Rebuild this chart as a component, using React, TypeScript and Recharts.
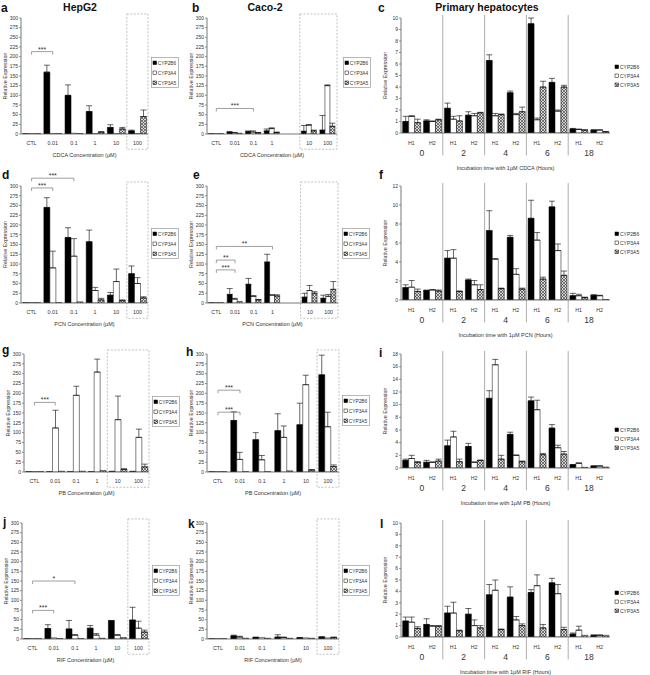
import React from "react";
import { BarChart, Bar, XAxis, YAxis, ErrorBar, ReferenceLine, ReferenceArea } from "recharts";

const FONT = "'Liberation Sans', Arial, Helvetica, sans-serif";

const genes = ["CYP2B6", "CYP3A4", "CYP3A5"];
const doses = ["CTL", "0.01", "0.1", "1", "10", "100"];
const times = ["0", "2", "4", "6", "18"];
const donors = ["H1", "H2"];

const doseTicks = [0, 25, 50, 75, 100, 125, 150, 175, 200, 225, 250, 275, 300];
const ticks10 = [0, 1, 2, 3, 4, 5, 6, 7, 8, 9, 10];
const ticks12 = [0, 2, 4, 6, 8, 10, 12];
const ticks18 = [0, 2, 4, 6, 8, 10, 12, 14, 16, 18];

// rows: CYP2B6, CYP3A4, CYP3A5 ; columns: doses
const hepCdcaMean = [
  [1, 160, 100, 58, 17, 8],
  [1, 1, 2, 1, 1, 1],
  [1, 1, 1, 5, 13, 45],
];
const hepCdcaErr = [
  [0, 18, 27, 15, 7, 2],
  [0, 0, 0, 0, 0, 0],
  [0, 0, 0, 1, 4, 17],
];
const cacoCdcaMean = [
  [1, 5, 6, 8, 7, 10],
  [1, 3, 5, 14, 23, 125],
  [1, 2, 3, 4, 8, 20],
];
const cacoCdcaErr = [
  [0, 1, 2, 5, 15, 38],
  [0, 1, 3, 2, 1, 2],
  [0, 0, 1, 1, 2, 8],
];
const hepPcnMean = [
  [1, 245, 168, 157, 20, 75],
  [1, 90, 120, 32, 55, 50],
  [1, 1, 3, 8, 6, 13],
];
const hepPcnErr = [
  [0, 25, 25, 30, 7, 20],
  [0, 43, 45, 8, 32, 15],
  [0, 0, 0, 4, 2, 3],
];
const cacoPcnMean = [
  [1, 22, 48, 105, 15, 12],
  [1, 10, 17, 20, 32, 17],
  [1, 4, 8, 18, 25, 35],
];
const cacoPcnErr = [
  [0, 15, 15, 20, 10, 8],
  [0, 2, 2, 1, 13, 5],
  [0, 0, 1, 3, 4, 20],
];
const hepPbMean = [
  [1, 1, 1, 1, 2, 2],
  [1, 112, 195, 254, 133, 88],
  [1, 2, 2, 4, 7, 13],
];
const hepPbErr = [
  [0, 0, 0, 0, 0, 0],
  [0, 45, 23, 33, 60, 21],
  [0, 0, 0, 0, 1, 7],
];
const cacoPbMean = [
  [1, 131, 82, 105, 120, 247],
  [1, 32, 31, 88, 222, 115],
  [1, 1, 1, 3, 5, 14],
];
const cacoPbErr = [
  [0, 22, 18, 43, 55, 50],
  [0, 18, 11, 29, 24, 37],
  [0, 0, 0, 0, 1, 4],
];
const hepRifMean = [
  [1, 27, 26, 28, 47, 49],
  [1, 3, 10, 10, 10, 28],
  [1, 1, 1, 2, 4, 18],
];
const hepRifErr = [
  [0, 10, 22, 7, 1, 33],
  [0, 0, 1, 4, 1, 18],
  [0, 0, 0, 0, 0, 5],
];
const cacoRifMean = [
  [1, 8, 4, 5, 3, 5],
  [1, 5, 4, 4, 3, 3],
  [1, 2, 2, 2, 2, 4],
];
const cacoRifErr = [
  [0, 2, 1, 6, 1, 1],
  [0, 2, 0, 1, 0, 0],
  [0, 0, 0, 0, 0, 1],
];

// primary hepatocytes, columns: 0h H1, 0h H2, 2h H1, 2h H2, ... 18h H2
const priCdcaMean = [
  [1.0, 1.05, 2.15, 1.55, 6.3, 3.5, 9.5, 4.4, 0.35, 0.25],
  [1.45, 1.0, 1.2, 1.5, 1.5, 1.6, 1.15, 1.9, 0.3, 0.25],
  [0.9, 1.15, 1.05, 1.75, 1.6, 1.85, 4.0, 4.0, 0.25, 0.1],
];
const priCdcaErr = [
  [0.45, 0.1, 0.45, 0.3, 0.5, 0.15, 0.5, 0.35, 0.05, 0.03],
  [0.05, 0.05, 0.25, 0.2, 0.2, 0.1, 0.15, 0.1, 0.05, 0.03],
  [0.3, 0.05, 0.45, 0.05, 0.05, 0.4, 0.5, 0.15, 0.03, 0.03],
];
const priPcnMean = [
  [1.3, 1.0, 4.4, 2.1, 7.3, 6.6, 8.6, 9.8, 0.45, 0.5],
  [1.35, 1.05, 4.4, 1.6, 4.3, 2.7, 6.3, 5.2, 0.45, 0.45],
  [0.9, 0.95, 0.9, 1.1, 1.2, 1.15, 2.2, 2.6, 0.25, 0.05],
];
const priPcnErr = [
  [0.3, 0.05, 0.8, 0.1, 2.1, 0.2, 1.9, 0.6, 0.25, 0.05],
  [0.7, 0.05, 0.9, 0.45, 0.05, 0.6, 0.8, 0.7, 0.15, 0.05],
  [0.25, 0.1, 0.05, 0.5, 0.05, 0.1, 0.2, 0.45, 0.05, 0],
];
const priPbMean = [
  [1.2, 0.9, 3.5, 3.4, 11.0, 5.3, 10.6, 6.3, 0.5, 0.3],
  [1.5, 0.9, 4.9, 0.9, 16.3, 2.0, 9.2, 3.2, 0.75, 0.3],
  [0.9, 1.1, 1.0, 1.2, 1.4, 1.0, 2.1, 2.2, 0.1, 0.15],
];
const priPbErr = [
  [0.2, 0.3, 0.9, 0.5, 1.2, 0.35, 0.6, 0.55, 0.05, 0.05],
  [0.5, 0.05, 0.9, 0.05, 0.85, 0.05, 1.5, 0.4, 0.05, 0.05],
  [0.1, 0.3, 0.4, 0.05, 0.6, 0.1, 0.2, 0.4, 0, 0],
];
const priRifMean = [
  [1.4, 1.1, 2.1, 2.0, 3.7, 3.5, 3.9, 4.75, 0.25, 0.15],
  [1.3, 0.95, 2.1, 1.0, 4.1, 1.5, 4.5, 3.8, 0.6, 0.15],
  [0.75, 0.95, 0.55, 0.8, 0.65, 1.0, 0.8, 0.65, 0.15, 0.15],
];
const priRifErr = [
  [0.35, 0.5, 0.6, 0.5, 0.9, 0.9, 0.25, 0.4, 0.1, 0.03],
  [0.45, 0.05, 0.95, 0.5, 0.9, 0.3, 0.95, 0.8, 0.35, 0.03],
  [0.15, 0.05, 0.05, 0.2, 0.05, 0.15, 0.3, 0.2, 0, 0],
];

// significance brackets
type Sig = { from: string; to: string; at: number; mark: string };
const hepCdcaSig: Sig[] = [{ from: "CTL", to: "0.01", at: 213, mark: "***" }];
const cacoCdcaSig: Sig[] = [{ from: "CTL", to: "0.1", at: 66, mark: "***" }];
const hepPcnSig: Sig[] = [
  { from: "CTL", to: "0.01", at: 295, mark: "***" },
  { from: "CTL", to: "0.1", at: 320, mark: "***" },
];
const cacoPcnSig: Sig[] = [
  { from: "CTL", to: "0.01", at: 85, mark: "***" },
  { from: "CTL", to: "0.01", at: 110, mark: "**" },
  { from: "CTL", to: "1", at: 145, mark: "**" },
];
const hepPbSig: Sig[] = [{ from: "CTL", to: "0.01", at: 177, mark: "***" }];
const cacoPbSig: Sig[] = [
  { from: "CTL", to: "0.01", at: 152, mark: "***" },
  { from: "CTL", to: "0.01", at: 208, mark: "***" },
];
const hepRifSig: Sig[] = [
  { from: "CTL", to: "0.01", at: 74, mark: "***" },
  { from: "CTL", to: "0.1", at: 150, mark: "*" },
];

const fills = ["#000000", "#ffffff", "url(#hatch)"];
const YW = 20;
const MT = 14;

const errPair = (e: number) => (e > 0 ? [0, e] : undefined);

function seriesBars() {
  return genes.map((g, i) => (
    <Bar
      key={g}
      dataKey={`v${i}`}
      name={g}
      fill={fills[i]}
      stroke="#000"
      strokeWidth={0.5}
      isAnimationActive={false}
    >
      <ErrorBar dataKey={`e${i}`} width={3} stroke="#000" strokeWidth={0.6} />
    </Bar>
  ));
}

function YTitle(props: any) {
  const vb = props.viewBox;
  const cx = vb.x + 4;
  const cy = vb.y + vb.height / 2;
  return (
    <text
      x={cx}
      y={cy}
      transform={`rotate(-90 ${cx} ${cy})`}
      textAnchor="middle"
      dominantBaseline="central"
      fontSize={5.3}
      fill="#333"
    >
      Relative Expression
    </text>
  );
}

function yAxisFor(max: number, ticks: number[]) {
  return (
    <YAxis
      domain={[0, max]}
      ticks={ticks}
      interval={0}
      width={YW}
      allowDataOverflow
      tickSize={2}
      tickMargin={1}
      axisLine={{ stroke: "#555", strokeWidth: 0.8 }}
      tickLine={{ stroke: "#555", strokeWidth: 0.6 }}
      tick={{ fontSize: 5, fill: "#333" }}
      label={<YTitle />}
    />
  );
}

function bracketLines(b: Sig, unit: number, k: string) {
  const drop = 3 / unit;
  const common: any = { ifOverflow: "visible", stroke: "#777", strokeWidth: 0.7 };
  return [
    <ReferenceLine
      key={k + "h"}
      {...common}
      segment={[{ x: b.from, y: b.at }, { x: b.to, y: b.at }]}
      label={{ value: b.mark, position: "top", offset: 0, fontSize: 7, fill: "#333" }}
    />,
    <ReferenceLine key={k + "l"} {...common} segment={[{ x: b.from, y: b.at }, { x: b.from, y: b.at - drop }]} />,
    <ReferenceLine key={k + "r"} {...common} segment={[{ x: b.to, y: b.at }, { x: b.to, y: b.at - drop }]} />,
  ];
}

type DoseSpec = {
  id: string;
  x: number;
  y: number;
  w: number;
  h: number;
  mean: number[][];
  err: number[][];
  drug: string;
  gap: boolean;
  box: [string, string];
  sig: Sig[];
};

function DosePanel({ s }: { s: DoseSpec }) {
  const rows: any[] = doses.map((d, i) => ({
    cat: d,
    v0: s.mean[0][i],
    v1: s.mean[1][i],
    v2: s.mean[2][i],
    e0: errPair(s.err[0][i]),
    e1: errPair(s.err[1][i]),
    e2: errPair(s.err[2][i]),
  }));
  if (s.gap) rows.splice(4, 0, { cat: "" });
  const unit = s.h / 300;
  return (
    <div style={{ position: "absolute", left: s.x - YW, top: s.y - MT }}>
      <BarChart
        width={YW + s.w + 2}
        height={MT + s.h + 26}
        data={rows}
        margin={{ top: MT, right: 2, left: 0, bottom: 0 }}
        barGap={0}
        barCategoryGap="8%"
      >
        <XAxis
          dataKey="cat"
          height={24}
          interval={0}
          tickLine={false}
          tickSize={5}
          tickMargin={2}
          axisLine={{ stroke: "#555", strokeWidth: 0.8 }}
          tick={{ fontSize: 5.3, fill: "#333" }}
          label={{
            value: `${s.drug} Concentration (\u00b5M)`,
            position: "insideBottom",
            offset: 1,
            fontSize: 5.5,
            fill: "#333",
          }}
        />
        {yAxisFor(300, doseTicks)}
        {seriesBars()}
        <ReferenceArea
          x1={s.box[0]}
          x2={s.box[1]}
          y1={-15 / unit}
          y2={300 + 4 / unit}
          ifOverflow="visible"
          fill="none"
          stroke="#999"
          strokeWidth={0.6}
          strokeDasharray="2 1.5"
        />
        {s.sig.flatMap((b, i) => bracketLines(b, unit, `${s.id}${i}`))}
      </BarChart>
    </div>
  );
}

// two-level tick: donor under each bar group, time point centred under each pair
function TimeTick(props: any) {
  const { x, y, payload, step } = props;
  const [t, d] = String(payload.value).split("-");
  return (
    <g>
      <text x={x} y={y + 9} textAnchor="middle" dominantBaseline="central" fontSize={5.3} fill="#333">
        {d}
      </text>
      {d === "H1" && (
        <text x={x + step / 2} y={y + 19} textAnchor="middle" dominantBaseline="central" fontSize={8.5} fill="#333">
          {t}
        </text>
      )}
    </g>
  );
}

type TimeSpec = {
  id: string;
  x: number;
  y: number;
  w: number;
  h: number;
  max: number;
  ticks: number[];
  mean: number[][];
  err: number[][];
  drug: string;
};

function TimePanel({ s }: { s: TimeSpec }) {
  const rows = times.flatMap((t, ti) =>
    donors.map((d, di) => {
      const i = ti * 2 + di;
      return {
        key: `${t}-${d}`,
        v0: s.mean[0][i],
        v1: s.mean[1][i],
        v2: s.mean[2][i],
        e0: errPair(s.err[0][i]),
        e1: errPair(s.err[1][i]),
        e2: errPair(s.err[2][i]),
      };
    })
  );
  const unit = s.h / s.max;
  return (
    <div style={{ position: "absolute", left: s.x - YW, top: s.y - MT }}>
      <BarChart
        width={YW + s.w + 2}
        height={MT + s.h + 41}
        data={rows}
        margin={{ top: MT, right: 2, left: 0, bottom: 0 }}
        barGap={0}
        barCategoryGap="8%"
      >
        <XAxis
          dataKey="key"
          height={39}
          interval={0}
          tickLine={false}
          tickSize={1}
          tickMargin={0}
          axisLine={{ stroke: "#555", strokeWidth: 0.8 }}
          tick={<TimeTick step={s.w / 10} />}
          label={{
            value: `Incubation time with 1\u00b5M ${s.drug} (Hours)`,
            position: "insideBottom",
            offset: 2,
            fontSize: 5.5,
            fill: "#333",
          }}
        />
        {yAxisFor(s.max, s.ticks)}
        {seriesBars()}
        {times.slice(1).map((t) => (
          <ReferenceLine
            key={t}
            position="start"
            ifOverflow="visible"
            stroke="#999"
            strokeWidth={0.8}
            segment={[
              { x: `${t}-H1`, y: s.max + 3 / unit },
              { x: `${t}-H1`, y: -22 / unit },
            ]}
          />
        ))}
      </BarChart>
    </div>
  );
}

function LegendBox({ x, y, framed }: { x: number; y: number; framed: boolean }) {
  const w = framed ? 28 : 36;
  const h = framed ? 31 : 28;
  const step = framed ? 10 : 9;
  return (
    <svg style={{ position: "absolute", left: x, top: y }} width={w} height={h}>
      {framed && (
        <rect x={0.5} y={0.5} width={w - 1} height={h - 1} fill="#fff" stroke="#999" strokeWidth={0.7} />
      )}
      {genes.map((g, i) => (
        <g key={g}>
          <rect
            x={framed ? 2 : 1}
            y={4 + i * step}
            width={3.6}
            height={3.6}
            fill={fills[i]}
            stroke="#000"
            strokeWidth={0.5}
          />
          <text x={framed ? 6.8 : 6} y={7.8 + i * step} fontSize={framed ? 4.8 : 5} fill="#333">
            {g}
          </text>
        </g>
      ))}
    </svg>
  );
}

const dosePanels: DoseSpec[] = [
  { id: "a", x: 21, y: 18, w: 127, h: 114, mean: hepCdcaMean, err: hepCdcaErr, drug: "CDCA", gap: false, box: ["100", "100"], sig: hepCdcaSig },
  { id: "b", x: 207, y: 18, w: 130, h: 114, mean: cacoCdcaMean, err: cacoCdcaErr, drug: "CDCA", gap: true, box: ["10", "100"], sig: cacoCdcaSig },
  { id: "d", x: 21, y: 186, w: 127, h: 115, mean: hepPcnMean, err: hepPcnErr, drug: "PCN", gap: false, box: ["100", "100"], sig: hepPcnSig },
  { id: "e", x: 207, y: 186, w: 131, h: 115, mean: cacoPcnMean, err: cacoPcnErr, drug: "PCN", gap: true, box: ["10", "100"], sig: cacoPcnSig },
  { id: "g", x: 24, y: 354, w: 125, h: 116, mean: hepPbMean, err: hepPbErr, drug: "PB", gap: false, box: ["10", "100"], sig: hepPbSig },
  { id: "h", x: 207, y: 354, w: 132, h: 116, mean: cacoPbMean, err: cacoPbErr, drug: "PB", gap: false, box: ["100", "100"], sig: cacoPbSig },
  { id: "j", x: 22, y: 523, w: 127, h: 114, mean: hepRifMean, err: hepRifErr, drug: "RIF", gap: false, box: ["100", "100"], sig: hepRifSig },
  { id: "k", x: 207, y: 523, w: 132, h: 114, mean: cacoRifMean, err: cacoRifErr, drug: "RIF", gap: false, box: ["100", "100"], sig: [] },
];

const timePanels: TimeSpec[] = [
  { id: "c", x: 401, y: 18, w: 209, h: 113, max: 10, ticks: ticks10, mean: priCdcaMean, err: priCdcaErr, drug: "CDCA" },
  { id: "f", x: 401, y: 186, w: 209, h: 112, max: 12, ticks: ticks12, mean: priPcnMean, err: priPcnErr, drug: "PCN" },
  { id: "i", x: 401, y: 354, w: 209, h: 112, max: 18, ticks: ticks18, mean: priPbMean, err: priPbErr, drug: "PB" },
  { id: "l", x: 401, y: 523, w: 209, h: 112, max: 10, ticks: ticks10, mean: priRifMean, err: priRifErr, drug: "RIF" },
];

const legends = [
  { x: 151, y: 57, framed: true },
  { x: 343, y: 57, framed: true },
  { x: 151, y: 228, framed: true },
  { x: 342, y: 228, framed: true },
  { x: 152, y: 396, framed: true },
  { x: 342, y: 395, framed: true },
  { x: 152, y: 565, framed: true },
  { x: 342, y: 565, framed: true },
  { x: 614, y: 61, framed: false },
  { x: 614, y: 228, framed: false },
  { x: 614, y: 424, framed: false },
  { x: 614, y: 587, framed: false },
];

const letters = [
  { t: "a", x: 1, y: 12 },
  { t: "b", x: 192, y: 12 },
  { t: "c", x: 378, y: 12 },
  { t: "d", x: 2, y: 179 },
  { t: "e", x: 193, y: 179 },
  { t: "f", x: 379, y: 179 },
  { t: "g", x: 2, y: 354 },
  { t: "h", x: 186, y: 356 },
  { t: "i", x: 379, y: 357 },
  { t: "j", x: 3, y: 526 },
  { t: "k", x: 188, y: 528 },
  { t: "l", x: 380, y: 528 },
];

const titles = [
  { t: "HepG2", x: 80 },
  { t: "Caco-2", x: 265 },
  { t: "Primary hepatocytes", x: 487 },
];

export default function App() {
  return (
    <div
      style={{
        position: "absolute",
        left: 0,
        top: 0,
        width: 650,
        height: 675,
        background: "#fff",
        fontFamily: FONT,
        overflow: "hidden",
      }}
    >
      <svg width={0} height={0} style={{ position: "absolute" }}>
        <defs>
          <pattern id="hatch" width={3} height={3} patternUnits="userSpaceOnUse">
            <rect width={3} height={3} fill="#d8d8d8" />
            <path d="M0,0 L3,3 M3,0 L0,3" stroke="#333" strokeWidth={0.6} />
          </pattern>
        </defs>
      </svg>
      <svg width={650} height={675} style={{ position: "absolute", left: 0, top: 0 }}>
        {letters.map((l) => (
          <text key={l.t} x={l.x} y={l.y} fontSize={12} fontWeight="bold" fill="#111">
            {l.t}
          </text>
        ))}
        {titles.map((t) => (
          <text key={t.t} x={t.x} y={11} fontSize={10.5} fontWeight="bold" textAnchor="middle" fill="#111">
            {t.t}
          </text>
        ))}
      </svg>
      {dosePanels.map((s) => (
        <DosePanel key={s.id} s={s} />
      ))}
      {timePanels.map((s) => (
        <TimePanel key={s.id} s={s} />
      ))}
      {legends.map((l, i) => (
        <LegendBox key={i} x={l.x} y={l.y} framed={l.framed} />
      ))}
    </div>
  );
}
